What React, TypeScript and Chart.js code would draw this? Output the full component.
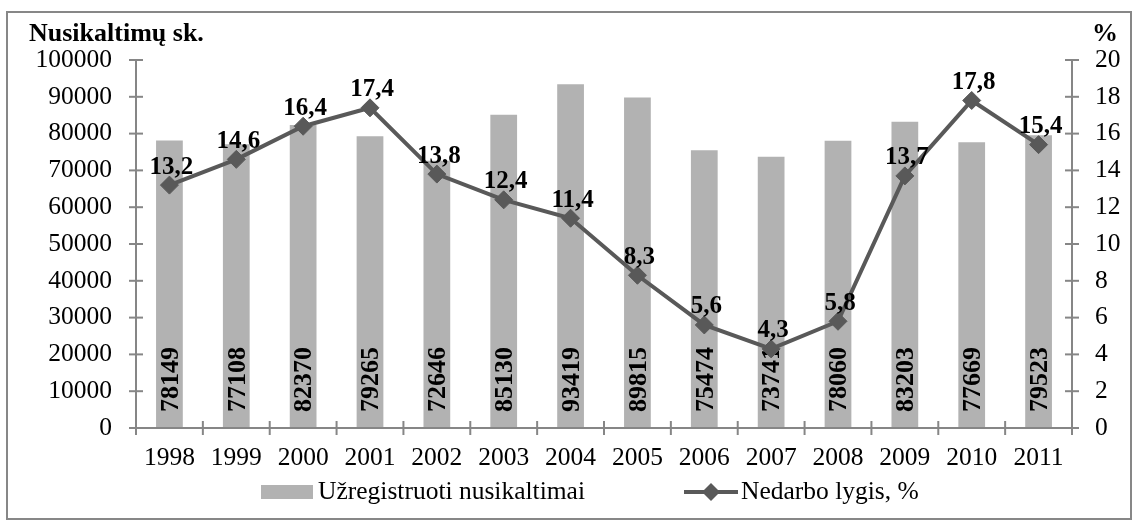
import React, { useEffect, useRef } from 'react';
import { Chart, registerables } from 'chart.js';

Chart.register(...registerables);

const years = ['1998', '1999', '2000', '2001', '2002', '2003', '2004', '2005', '2006', '2007', '2008', '2009', '2010', '2011'];
const crimes = [78149, 77108, 82370, 79265, 72646, 85130, 93419, 89815, 75474, 73741, 78060, 83203, 77669, 79523];
const unemployment = [13.2, 14.6, 16.4, 17.4, 13.8, 12.4, 11.4, 8.3, 5.6, 4.3, 5.8, 13.7, 17.8, 15.4];
const leftAxisMax = 100000;
const leftAxisStep = 10000;
const rightAxisMax = 20;
const rightAxisStep = 2;
const leftTitle = 'Nusikaltimų sk.';
const rightTitle = '%';
const barLegend = 'Užregistruoti nusikaltimai';
const lineLegend = 'Nedarbo lygis, %';

const FONT = '"Liberation Serif", "Times New Roman", serif';
const BAR_COLOR = '#b2b2b2';
const LINE_COLOR = '#595959';
const AXIS_COLOR = '#868686';

function seg(ctx: CanvasRenderingContext2D, x1: number, y1: number, x2: number, y2: number) {
  ctx.beginPath();
  ctx.moveTo(x1, y1);
  ctx.lineTo(x2, y2);
  ctx.stroke();
}

function diamond(ctx: CanvasRenderingContext2D, x: number, y: number, r: number) {
  ctx.beginPath();
  ctx.moveTo(x, y - r);
  ctx.lineTo(x + r, y);
  ctx.lineTo(x, y + r);
  ctx.lineTo(x - r, y);
  ctx.closePath();
  ctx.fill();
}

const decor = {
  id: 'decor',
  beforeDatasetsDraw(chart: any) {
    const ctx: CanvasRenderingContext2D = chart.ctx;
    ctx.save();
    // outer frame
    ctx.strokeStyle = '#878787';
    ctx.lineWidth = 2;
    ctx.strokeRect(7, 12, 1124, 507);
    // axis titles
    ctx.fillStyle = '#000';
    ctx.font = `bold 26px ${FONT}`;
    ctx.textAlign = 'left';
    ctx.textBaseline = 'alphabetic';
    ctx.fillText(leftTitle, 29, 41);
    ctx.fillText(rightTitle, 1092, 41);
    // legend
    ctx.fillStyle = BAR_COLOR;
    ctx.fillRect(261, 485, 52, 14);
    ctx.fillStyle = '#000';
    ctx.font = `25.5px ${FONT}`;
    ctx.textBaseline = 'middle';
    ctx.fillText(barLegend, 318, 492);
    ctx.strokeStyle = LINE_COLOR;
    ctx.lineWidth = 4;
    seg(ctx, 684, 492, 738, 492);
    ctx.fillStyle = LINE_COLOR;
    diamond(ctx, 711, 492, 9);
    ctx.fillStyle = '#000';
    ctx.fillText(lineLegend, 741, 492);
    ctx.restore();
  },
  afterDatasetDraw(chart: any, args: any) {
    if (args.meta.type !== 'bar') return;
    const ctx: CanvasRenderingContext2D = chart.ctx;
    const a = chart.chartArea;
    const sy = chart.scales.y;
    const sy1 = chart.scales.y1;
    ctx.save();
    ctx.strokeStyle = AXIS_COLOR;
    ctx.lineWidth = 2;
    seg(ctx, a.left, a.top, a.left, a.bottom);
    seg(ctx, a.right, a.top, a.right, a.bottom);
    seg(ctx, a.left - 1, a.bottom, a.right + 1, a.bottom);
    for (let v = 0; v <= leftAxisMax; v += leftAxisStep) {
      const y = sy.getPixelForValue(v);
      seg(ctx, a.left - 7, y, a.left + 7, y);
    }
    for (let v = 0; v <= rightAxisMax; v += rightAxisStep) {
      const y = sy1.getPixelForValue(v);
      seg(ctx, a.right - 7, y, a.right + 7, y);
    }
    const n = years.length;
    for (let i = 0; i <= n; i++) {
      const x = a.left + (i * (a.right - a.left)) / n;
      seg(ctx, x, a.bottom - 7, x, a.bottom + 7);
    }
    // bar value labels
    ctx.fillStyle = '#000';
    ctx.font = `bold 26px ${FONT}`;
    ctx.textAlign = 'left';
    ctx.textBaseline = 'middle';
    args.meta.data.forEach((el: any, i: number) => {
      ctx.save();
      ctx.translate(el.x + 1.5, a.bottom - 16);
      ctx.rotate(-Math.PI / 2);
      ctx.fillText(String(crimes[i]), 0, 0);
      ctx.restore();
    });
    ctx.restore();
  },
  afterDatasetsDraw(chart: any) {
    const ctx: CanvasRenderingContext2D = chart.ctx;
    const meta = chart.getDatasetMeta(1);
    ctx.save();
    ctx.fillStyle = '#000';
    ctx.font = `bold 25px ${FONT}`;
    ctx.textAlign = 'center';
    ctx.textBaseline = 'middle';
    meta.data.forEach((el: any, i: number) => {
      ctx.fillText(unemployment[i].toFixed(1).replace('.', ','), el.x + 2, el.y - 18);
    });
    ctx.restore();
  },
};

export default function App() {
  const ref = useRef<HTMLCanvasElement | null>(null);
  useEffect(() => {
    if (!ref.current) return;
    const tickFont = { family: FONT, size: 25.5 };
    const chart = new Chart(ref.current, {
      type: 'bar',
      data: {
        labels: years,
        datasets: [
          {
            type: 'bar',
            label: barLegend,
            data: crimes,
            backgroundColor: BAR_COLOR,
            yAxisID: 'y',
            barPercentage: 0.4,
            categoryPercentage: 1,
            order: 2,
          } as any,
          {
            type: 'line',
            label: lineLegend,
            data: unemployment,
            yAxisID: 'y1',
            borderColor: LINE_COLOR,
            borderWidth: 4,
            pointStyle: 'rectRot',
            pointRadius: 9,
            pointBackgroundColor: LINE_COLOR,
            pointBorderColor: LINE_COLOR,
            pointBorderWidth: 1,
            tension: 0,
            order: 1,
          } as any,
        ],
      },
      options: {
        responsive: false,
        animation: false,
        layout: { padding: { top: 60, left: 0, right: 0, bottom: 0 } },
        plugins: { legend: { display: false }, tooltip: { enabled: false } },
        scales: {
          x: {
            type: 'category',
            offset: true,
            grid: { display: false, drawTicks: false },
            border: { display: false },
            ticks: { font: tickFont, color: '#000', padding: 15, maxRotation: 0, autoSkip: false },
            afterFit(s: any) { s.height = 93; },
          },
          y: {
            position: 'left',
            min: 0,
            max: leftAxisMax,
            grid: { display: false, drawTicks: false },
            border: { display: false },
            ticks: { stepSize: leftAxisStep, font: tickFont, color: '#000', padding: 24, callback: (v: any) => String(v) },
            afterFit(s: any) { s.width = 136; },
          },
          y1: {
            position: 'right',
            min: 0,
            max: rightAxisMax,
            grid: { display: false, drawTicks: false },
            border: { display: false },
            ticks: { stepSize: rightAxisStep, font: tickFont, color: '#000', padding: 23, callback: (v: any) => String(v) },
            afterFit(s: any) { s.width = 61; },
          },
        },
      } as any,
      plugins: [decor],
    });
    return () => chart.destroy();
  }, []);
  return (
    <div style={{ position: 'absolute', left: 0, top: 0, width: 1133, height: 521, background: '#fff' }}>
      <canvas ref={ref} width={1133} height={521} style={{ display: 'block' }} />
    </div>
  );
}
